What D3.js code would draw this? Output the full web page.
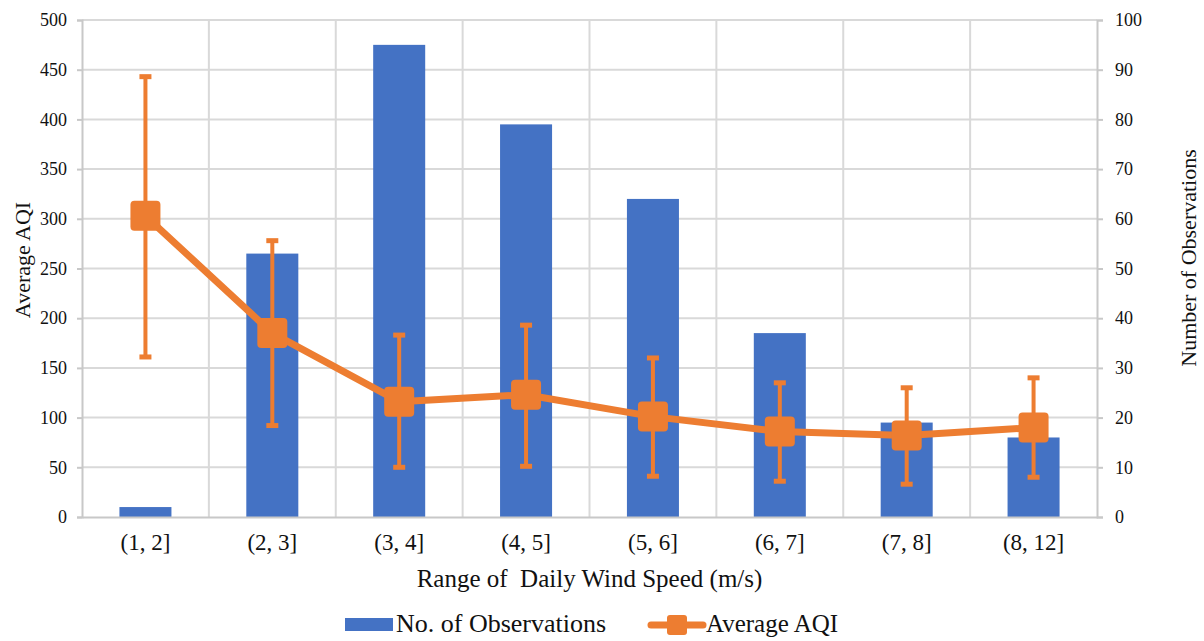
<!DOCTYPE html>
<html>
<head>
<meta charset="utf-8">
<script src="https://cdn.jsdelivr.net/npm/d3@7"></script>
<style>
  body { margin: 0; background: #fff; }
  svg text { font-family: "Liberation Serif", "Times New Roman", Times, serif; fill: #111; }
</style>
</head>
<body>
<svg id="chart" width="1204" height="641"></svg>
<script>
// data
var categories = ["(1, 2]", "(2, 3]", "(3, 4]", "(4, 5]", "(5, 6]", "(6, 7]", "(7, 8]", "(8, 12]"];
var observations = [2, 53, 95, 79, 64, 37, 19, 16];
var avgAQI = [303, 185, 116, 123, 101, 86, 82, 90];
var aqiHigh = [443, 278, 183, 193, 160, 135, 130, 140];
var aqiLow = [161, 92, 50, 51, 41, 36, 33, 40];
var leftTicks = [0, 50, 100, 150, 200, 250, 300, 350, 400, 450, 500];
var rightTicks = [0, 10, 20, 30, 40, 50, 60, 70, 80, 90, 100];

var blue = "#4472C4", orange = "#ED7D31", grid = "#d9d9d9";
var serif = '"Liberation Serif", "Times New Roman", Times, serif';

var svg = d3.select("#chart");
var plotL = 82, plotR = 1097, plotT = 20, plotB = 517;

var x = d3.scaleBand().domain(categories).range([plotL, plotR]);
var yL = d3.scaleLinear().domain([0, 500]).range([plotB, plotT]);
var yR = d3.scaleLinear().domain([0, 100]).range([plotB, plotT]);

// gridlines
svg.append("g").selectAll("line")
  .data(leftTicks.slice(1))
  .enter().append("line")
  .attr("x1", plotL).attr("x2", plotR)
  .attr("y1", d => yL(d)).attr("y2", d => yL(d))
  .attr("stroke", grid).attr("stroke-width", 2);

svg.append("g").selectAll("line")
  .data(categories.slice(1))
  .enter().append("line")
  .attr("x1", d => x(d)).attr("x2", d => x(d))
  .attr("y1", plotT).attr("y2", plotB)
  .attr("stroke", grid).attr("stroke-width", 2);

// bars
var bw = x.bandwidth() * 0.41;
svg.append("g").selectAll("rect")
  .data(observations)
  .enter().append("rect")
  .attr("x", (d, i) => x(categories[i]) + x.bandwidth() / 2 - bw / 2)
  .attr("width", bw)
  .attr("y", d => yR(d))
  .attr("height", d => plotB - yR(d))
  .attr("fill", blue);

// axes
var axL = svg.append("g").attr("transform", "translate(" + plotL + ",0)")
  .call(d3.axisLeft(yL).tickValues(leftTicks).tickSize(5).tickPadding(10));
var axR = svg.append("g").attr("transform", "translate(" + plotR + ",0)")
  .call(d3.axisRight(yR).tickValues(rightTicks).tickSize(6).tickPadding(12));
var axB = svg.append("g").attr("transform", "translate(0," + plotB + ")")
  .call(d3.axisBottom(x).tickSize(0).tickPadding(17));

[axL, axR, axB].forEach(function(a) {
  a.attr("font-family", serif);
  a.selectAll("path").attr("stroke", "#c8c8c8").attr("stroke-width", 2);
  a.selectAll("line").attr("stroke", "#c8c8c8").attr("stroke-width", 2);
  a.selectAll("text").attr("font-family", serif).attr("fill", "#111");
});
axL.attr("font-size", 18).selectAll("text").attr("font-size", 18);
axR.attr("font-size", 18).selectAll("text").attr("font-size", 18);
axB.attr("font-size", 23).selectAll("text").attr("font-size", 23);

// error bars
var cx = i => x(categories[i]) + x.bandwidth() / 2;
var err = svg.append("g");
avgAQI.forEach(function(v, i) {
  err.append("line")
    .attr("x1", cx(i)).attr("x2", cx(i))
    .attr("y1", yL(aqiHigh[i])).attr("y2", yL(aqiLow[i]))
    .attr("stroke", orange).attr("stroke-width", 4);
  [aqiHigh[i], aqiLow[i]].forEach(function(e) {
    err.append("line")
      .attr("x1", cx(i) - 6).attr("x2", cx(i) + 6)
      .attr("y1", yL(e)).attr("y2", yL(e))
      .attr("stroke", orange).attr("stroke-width", 5);
  });
});

// line + markers
var line = d3.line().x((d, i) => cx(i)).y(d => yL(d));
svg.append("path")
  .datum(avgAQI)
  .attr("d", line)
  .attr("fill", "none")
  .attr("stroke", orange)
  .attr("stroke-width", 7)
  .attr("stroke-linejoin", "round");

svg.append("g").selectAll("rect")
  .data(avgAQI)
  .enter().append("rect")
  .attr("x", (d, i) => cx(i) - 15)
  .attr("y", d => yL(d) - 15)
  .attr("width", 30).attr("height", 30)
  .attr("rx", 4)
  .attr("fill", orange);

// axis titles
svg.append("text")
  .attr("transform", "translate(30,260) rotate(-90)")
  .attr("text-anchor", "middle")
  .attr("font-family", serif)
  .attr("font-size", 22)
  .text("Average AQI");

svg.append("text")
  .attr("transform", "translate(1196,258) rotate(-90)")
  .attr("text-anchor", "middle")
  .attr("font-family", serif)
  .attr("font-size", 22)
  .text("Number of Observations");

svg.append("text")
  .attr("x", (plotL + plotR) / 2).attr("y", 587)
  .attr("text-anchor", "middle")
  .attr("font-family", serif)
  .attr("font-size", 25)
  .attr("xml:space", "preserve")
  .text("Range of  Daily Wind Speed (m/s)");

// legend
var lg = svg.append("g").attr("font-family", serif);
lg.append("rect").attr("x", 345).attr("y", 618).attr("width", 48).attr("height", 13).attr("fill", blue);
lg.append("text").attr("x", 396).attr("y", 632).attr("font-size", 26).text("No. of Observations");
lg.append("line").attr("x1", 651).attr("x2", 703).attr("y1", 625).attr("y2", 625)
  .attr("stroke", orange).attr("stroke-width", 7).attr("stroke-linecap", "round");
lg.append("rect").attr("x", 667).attr("y", 615).attr("width", 20).attr("height", 20).attr("rx", 3).attr("fill", orange);
lg.append("text").attr("x", 706).attr("y", 632).attr("font-size", 25).text("Average AQI");
</script>
</body>
</html>
